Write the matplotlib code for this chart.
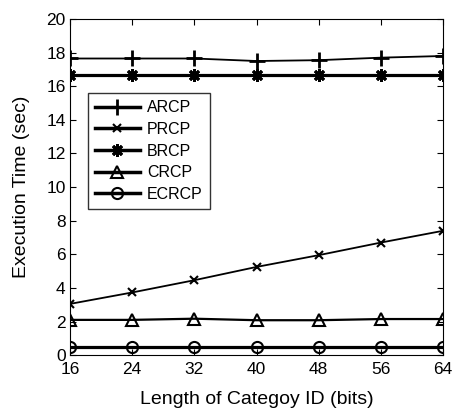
import matplotlib.pyplot as plt

plt.rcParams['font.family'] = ['Liberation Sans', 'DejaVu Sans']

# data
bits = [16, 24, 32, 40, 48, 56, 64]
arcp = [17.65, 17.65, 17.65, 17.5, 17.55, 17.7, 17.8]
prcp = [3.05, 3.73, 4.46, 5.25, 5.95, 6.7, 7.4]
brcp = [16.67, 16.67, 16.67, 16.67, 16.67, 16.67, 16.67]
crcp = [2.1, 2.1, 2.17, 2.08, 2.08, 2.15, 2.15]
ecrcp = [0.5, 0.5, 0.5, 0.5, 0.5, 0.5, 0.5]

fig = plt.figure(figsize=(4.54, 4.13), dpi=100)
ax = fig.add_axes([0.154, 0.140, 0.822, 0.814])

ax.plot(bits, arcp, color='black', lw=1.3, marker='+', ms=12, mew=2, label='ARCP')
ax.plot(bits, prcp, color='black', lw=1.3, marker='x', ms=6, mew=1.5, label='PRCP')
ax.plot(bits, brcp, color='black', lw=2.3, marker=(8, 2, 0), ms=9, mew=2, label='BRCP')
ax.plot(bits, crcp, color='black', lw=1.6, marker='^', ms=9, mew=1.5, mfc='none', label='CRCP')
ax.plot(bits, ecrcp, color='black', lw=2.3, marker='o', ms=8, mew=1.5, mfc='none', label='ECRCP')

ax.set_xlim(16, 64)
ax.set_ylim(0, 20)
ax.set_xticks(bits)
ax.set_yticks(range(0, 21, 2))
ax.tick_params(direction='in', top=True, right=True, labelsize=12.5, length=4)
ax.tick_params(axis='x', pad=5)
ax.tick_params(axis='y', pad=3)
ax.set_xlabel('Length of Categoy ID (bits)', fontsize=14, labelpad=10)
ax.set_ylabel('Execution Time (sec)', fontsize=14, labelpad=12)

leg = ax.legend(loc='upper left', bbox_to_anchor=(0.048, 0.78), borderaxespad=0,
                fontsize=11.5, frameon=True, fancybox=False, edgecolor='black',
                handlelength=2.8, borderpad=0.45, labelspacing=0.42, handletextpad=0.45)
leg.get_frame().set_linewidth(1.0)
for line in leg.get_lines():
    line.set_linewidth(2.5)

fig.savefig('out.png', dpi=100)
